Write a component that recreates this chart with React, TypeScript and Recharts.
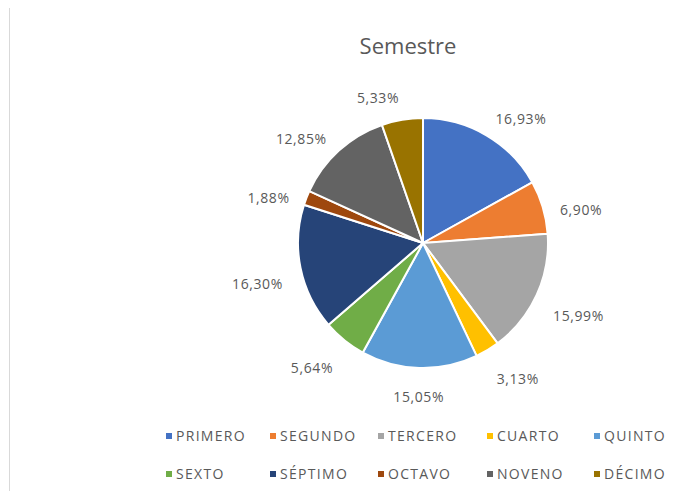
import { PieChart, Pie, Cell, Legend } from 'recharts';

const categories = ['PRIMERO', 'SEGUNDO', 'TERCERO', 'CUARTO', 'QUINTO', 'SEXTO', 'SÉPTIMO', 'OCTAVO', 'NOVENO', 'DÉCIMO'];
const shares = [16.93, 6.9, 15.99, 3.13, 15.05, 5.64, 16.3, 1.88, 12.85, 5.33];
const colors = ['#4472C4', '#ED7D31', '#A5A5A5', '#FFC000', '#5B9BD5', '#70AD47', '#264478', '#9E480E', '#636363', '#997300'];

const data = categories.map((name, i) => ({ name, value: shares[i] }));

const FONT = '"Open Sans", "Liberation Sans", sans-serif';
const RAD = Math.PI / 180;

// label outside the slice, anchored away from the pie like Excel's best fit
function renderLabel(props: any) {
  const { cx, cy, midAngle, outerRadius, value } = props;
  const cos = Math.cos(-midAngle * RAD);
  const sin = Math.sin(-midAngle * RAD);
  const r = outerRadius + 18;
  const x = cx + r * cos;
  const y = cy + r * sin + 8 * sin + 8 * Math.abs(cos) + 2;
  const anchor = Math.abs(cos) < 0.15 ? 'middle' : cos > 0 ? 'start' : 'end';
  return (
    <text
      x={x}
      y={y}
      textAnchor={anchor}
      dominantBaseline="central"
      fill="#595959"
      fontSize={14}
      letterSpacing={0.6}
      fontFamily={FONT}
    >
      {value.toFixed(2).replace('.', ',')}%
    </text>
  );
}

const legendCols = [166, 270, 378, 487, 594];

function LegendContent() {
  return (
    <div style={{ position: 'relative', width: 681, height: 80 }}>
      {categories.map((name, i) => {
        const row = i < 5 ? 0 : 1;
        const col = i % 5;
        return (
          <div
            key={name}
            style={{
              position: 'absolute',
              left: legendCols[col],
              top: row * 38,
              display: 'flex',
              alignItems: 'center',
              fontFamily: FONT,
              fontSize: 14,
              letterSpacing: 1.3,
              color: '#595959',
              whiteSpace: 'nowrap',
            }}
          >
            <span style={{ width: 6, height: 6, background: colors[i], marginRight: 4, display: 'inline-block' }} />
            {name}
          </div>
        );
      })}
    </div>
  );
}

export default function App() {
  return (
    <div style={{ position: 'absolute', left: 0, top: 0, width: 681, height: 491, background: '#fff' }}>
      <div style={{ position: 'absolute', left: 9, top: 8, width: 1, height: 483, background: '#d9d9d9' }} />
      <div
        style={{
          position: 'absolute',
          left: 0,
          width: 816,
          top: 30,
          textAlign: 'center',
          fontFamily: FONT,
          fontSize: 22,
          color: '#595959',
        }}
      >
        Semestre
      </div>
      <PieChart width={681} height={491} margin={{ top: 0, right: 0, bottom: 0, left: 0 }}>
        <Pie
          data={data}
          dataKey="value"
          nameKey="name"
          cx={423}
          cy={243}
          outerRadius={125}
          startAngle={90}
          endAngle={-270}
          stroke="#fff"
          strokeWidth={2}
          label={renderLabel}
          labelLine={false}
          isAnimationActive={false}
        >
          {data.map((d, i) => (
            <Cell key={d.name} fill={colors[i]} />
          ))}
        </Pie>
        <Legend
          content={<LegendContent />}
          wrapperStyle={{ position: 'absolute', left: 0, top: 426, width: 681 }}
        />
      </PieChart>
    </div>
  );
}
